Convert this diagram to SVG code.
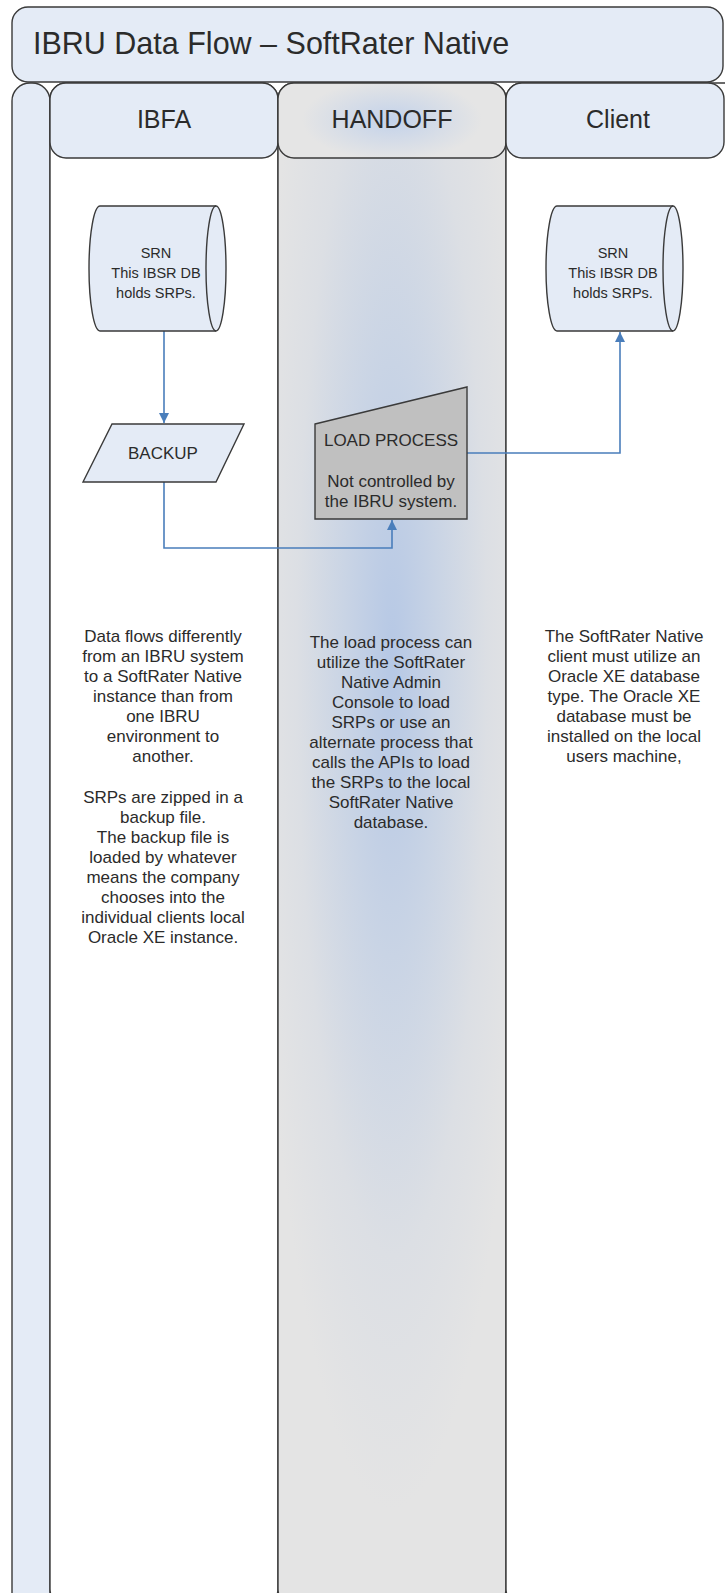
<svg xmlns="http://www.w3.org/2000/svg" width="725" height="1593" viewBox="0 0 725 1593">
<style>
.ln{stroke:#3a3a3a;stroke-width:1.4}
.blue{fill:#e4ebf6}
.t{font-family:"Liberation Sans",Arial,sans-serif;fill:#2b2b2b;text-anchor:middle}
.b{font-size:17px}
.c{font-size:14.5px}
.h{font-size:25px}
.cn{fill:none;stroke:#4a7ebb;stroke-width:1.6}
</style>
<defs>
<radialGradient id="hg" gradientUnits="userSpaceOnUse" cx="392" cy="120" r="90" gradientTransform="translate(392 120) scale(1 0.45) translate(-392 -120)">
<stop offset="0" stop-color="#c3d2ea"/>
<stop offset="1" stop-color="#e5e5e5"/>
</radialGradient>
<radialGradient id="bg" gradientUnits="userSpaceOnUse" cx="392" cy="660" r="850" gradientTransform="translate(392 660) scale(0.16 1) translate(-392 -660)">
<stop offset="0" stop-color="#b6c8e5"/>
<stop offset="0.35" stop-color="#c9d4e5"/>
<stop offset="0.7" stop-color="#dcdfe4"/>
<stop offset="1" stop-color="#e4e4e4"/>
</radialGradient>
<marker id="ah" viewBox="0 0 10 10" refX="10" refY="5" markerWidth="10" markerHeight="10" markerUnits="userSpaceOnUse" orient="auto">
<path d="M0,0 L10,5 L0,10 Z" fill="#4a7ebb"/>
</marker>
</defs>

<g id="pool">
<rect x="12" y="7" width="711" height="75" rx="16" class="blue ln"/>
<text x="33" y="54" class="t" style="font-size:30.5px;text-anchor:start">IBRU Data Flow – SoftRater Native</text>
<rect x="12" y="83" width="38" height="1530" rx="18" class="blue ln"/>
</g>

<g id="lane-ibfa">
<rect x="50" y="83" width="228" height="1522" rx="16" fill="#ffffff" class="ln"/>
<rect x="50" y="83" width="228" height="75" rx="16" class="blue ln"/>
<text x="164" y="128" class="t h">IBFA</text>
</g>
<g id="lane-handoff">
<rect x="278" y="83" width="228" height="1522" rx="16" fill="url(#bg)" class="ln"/>
<rect x="278" y="83" width="228" height="75" rx="16" fill="url(#hg)" class="ln"/>
<text x="392" y="128" class="t h">HANDOFF</text>
</g>
<g id="lane-client">
<rect x="506" y="83" width="260" height="1522" rx="16" fill="#ffffff" class="ln"/>
<rect x="506" y="83" width="218" height="75" rx="16" class="blue ln"/>
<text x="618" y="128" class="t h">Client</text>
</g>

<g id="connectors">
<path class="cn" d="M164,331 L164,423" marker-end="url(#ah)"/>
<path class="cn" d="M164,482 L164,548 L392,548 L392,520" marker-end="url(#ah)"/>
<path class="cn" d="M467,453 L620,453 L620,332" marker-end="url(#ah)"/>
</g>

<g id="srn-ibfa">
<path d="M100,206 L216,206 A10,62.5 0 0 1 216,331 L100,331 A11,62.5 0 0 1 100,206 Z" class="blue ln"/>
<path d="M216,206 A10,62.5 0 0 0 216,331" fill="none" class="ln"/>
<text class="t c" x="156" y="258">SRN</text>
<text class="t c" x="156" y="278">This IBSR DB</text>
<text class="t c" x="156" y="298">holds SRPs.</text>
</g>

<g id="srn-client">
<path d="M557,206 L673,206 A10,62.5 0 0 1 673,331 L557,331 A11,62.5 0 0 1 557,206 Z" class="blue ln"/>
<path d="M673,206 A10,62.5 0 0 0 673,331" fill="none" class="ln"/>
<text class="t c" x="613" y="258">SRN</text>
<text class="t c" x="613" y="278">This IBSR DB</text>
<text class="t c" x="613" y="298">holds SRPs.</text>
</g>

<g id="backup">
<polygon points="112,424 244,424 216,482 83,482" class="blue ln"/>
<text class="t b" x="163" y="459">BACKUP</text>
</g>

<g id="load-process">
<polygon points="315,424 467,387 467,519 315,519" fill="#c0c0c0" class="ln"/>
<text class="t b" x="391" y="446">LOAD PROCESS</text>
<text class="t b" x="391" y="487">Not controlled by</text>
<text class="t b" x="391" y="507">the IBRU system.</text>
</g>

<g id="note-ibfa">
<text class="t b" x="163" y="642">Data flows differently</text>
<text class="t b" x="163" y="662">from an IBRU system</text>
<text class="t b" x="163" y="682">to a SoftRater Native</text>
<text class="t b" x="163" y="702">instance than from</text>
<text class="t b" x="163" y="722">one IBRU</text>
<text class="t b" x="163" y="742">environment to</text>
<text class="t b" x="163" y="762">another.</text>
<text class="t b" x="163" y="803">SRPs are zipped in a</text>
<text class="t b" x="163" y="823">backup file.</text>
<text class="t b" x="163" y="843">The backup file is</text>
<text class="t b" x="163" y="863">loaded by whatever</text>
<text class="t b" x="163" y="883">means the company</text>
<text class="t b" x="163" y="903">chooses into the</text>
<text class="t b" x="163" y="923">individual clients local</text>
<text class="t b" x="163" y="943">Oracle XE instance.</text>
</g>

<g id="note-handoff">
<text class="t b" x="391" y="648">The load process can</text>
<text class="t b" x="391" y="668">utilize the SoftRater</text>
<text class="t b" x="391" y="688">Native Admin</text>
<text class="t b" x="391" y="708">Console to load</text>
<text class="t b" x="391" y="728">SRPs or use an</text>
<text class="t b" x="391" y="748">alternate process that</text>
<text class="t b" x="391" y="768">calls the APIs to load</text>
<text class="t b" x="391" y="788">the SRPs to the local</text>
<text class="t b" x="391" y="808">SoftRater Native</text>
<text class="t b" x="391" y="828">database.</text>
</g>

<g id="note-client">
<text class="t b" x="624" y="642">The SoftRater Native</text>
<text class="t b" x="624" y="662">client must utilize an</text>
<text class="t b" x="624" y="682">Oracle XE database</text>
<text class="t b" x="624" y="702">type. The Oracle XE</text>
<text class="t b" x="624" y="722">database must be</text>
<text class="t b" x="624" y="742">installed on the local</text>
<text class="t b" x="624" y="762">users machine,</text>
</g>
</svg>
